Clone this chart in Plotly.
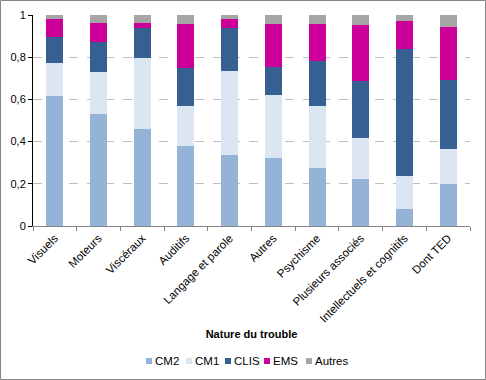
import plotly.graph_objects as go

categories = ["Visuels", "Moteurs", "Viscéraux", "Auditifs", "Langage et parole",
              "Autres", "Psychisme", "Plusieurs associés", "Intellectuels et cognitifs", "Dont TED"]
cm2 = [0.615, 0.530, 0.459, 0.379, 0.336, 0.322, 0.274, 0.222, 0.080, 0.199]
cm1 = [0.156, 0.199, 0.336, 0.189, 0.398, 0.298, 0.294, 0.194, 0.157, 0.165]
clis = [0.123, 0.142, 0.142, 0.180, 0.203, 0.132, 0.213, 0.270, 0.601, 0.327]
ems = [0.086, 0.090, 0.024, 0.208, 0.043, 0.204, 0.175, 0.265, 0.132, 0.251]
autres = [0.020, 0.039, 0.039, 0.044, 0.020, 0.044, 0.044, 0.049, 0.030, 0.058]
ytick_vals = [0, 0.2, 0.4, 0.6, 0.8, 1]
ytick_text = ["0", "0,2", "0,4", "0,6", "0,8", "1"]
series_names = ["CM2", "CM1", "CLIS", "EMS", "Autres"]
series_colors = ["#95B3D7", "#DCE6F2", "#376092", "#CC0099", "#A6A6A6"]
series_values = [cm2, cm1, clis, ems, autres]

W, H = 486, 380
ml, mr, mt, mb = 33, 16, 15, 154
pw, ph = W - ml - mr, H - mt - mb
base_y = H - mb  # pixel row of y=0


def px_x(px):
    return (px - ml) / pw


def px_y(py):
    return (base_y - py) / ph


fig = go.Figure()
for name, vals, col in zip(series_names, series_values, series_colors):
    fig.add_trace(go.Bar(x=categories, y=vals, name=name, showlegend=False,
                         marker=dict(color=col, line=dict(width=0)), width=0.39))

# custom compact legend (layout decoration)
legend_sq_x = [146, 186, 225, 264, 306]
legend_y = 361
shapes = []
annotations = []
for name, col, sx in zip(series_names, series_colors, legend_sq_x):
    shapes.append(dict(type="rect", xref="paper", yref="paper",
                       x0=px_x(sx), x1=px_x(sx + 6), y0=px_y(legend_y + 3), y1=px_y(legend_y - 3),
                       fillcolor=col, line=dict(width=0)))
    annotations.append(dict(text=name, xref="paper", yref="paper", x=px_x(sx + 7), y=px_y(legend_y),
                            xanchor="left", yanchor="middle", showarrow=False,
                            font=dict(size=11.5, color="black")))

shapes.append(dict(type="rect", xref="paper", yref="paper",
                   x0=px_x(0.5), x1=px_x(W - 0.5), y0=px_y(H - 0.5), y1=px_y(0.5),
                   line=dict(color="#868686", width=1), layer="below"))

fig.update_layout(
    barmode="stack",
    width=W, height=H,
    margin=dict(l=ml, r=mr, t=mt, b=mb, pad=0, autoexpand=False),
    paper_bgcolor="white", plot_bgcolor="white",
    font=dict(family="Liberation Sans, Arial, sans-serif", size=11, color="black"),
    showlegend=False,
    xaxis=dict(
        automargin=False,
        tickangle=-45, tickfont=dict(size=11.5),
        showline=True, linecolor="#868686", linewidth=1,
        ticks="outside", tickson="boundaries", ticklen=4, tickcolor="#868686",
        showgrid=False,
        title=dict(text="<b>Nature du trouble</b>", font=dict(size=11), standoff=6),
    ),
    yaxis=dict(
        automargin=False,
        range=[0, 1], tickvals=ytick_vals, ticktext=ytick_text,
        showline=True, linecolor="black", linewidth=1,
        ticks="outside", ticklen=4, tickcolor="black",
        showgrid=True, gridcolor="#BFBFBF", griddash="dash", gridwidth=1,
        zeroline=False,
    ),
    shapes=shapes,
    annotations=annotations,
)

fig.write_html("out.html", config={"displayModeBar": False},
               post_script="document.body.style.margin='0px';")
